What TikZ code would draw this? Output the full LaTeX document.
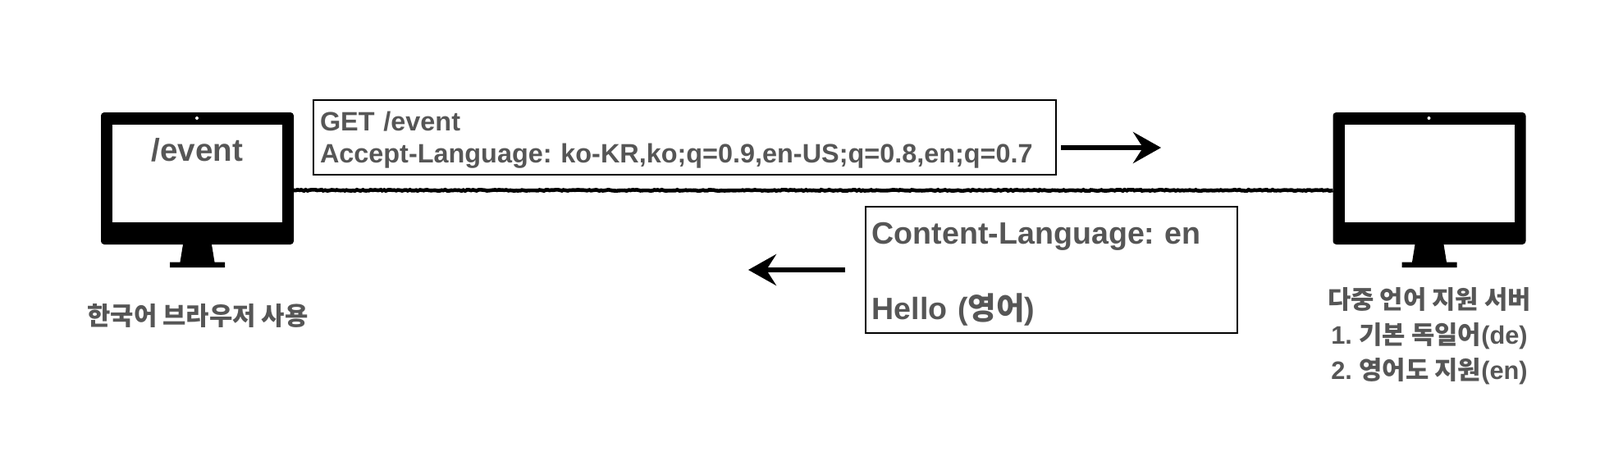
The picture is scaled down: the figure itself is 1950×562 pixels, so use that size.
\documentclass[tikz,border=0pt]{standalone}
\usepackage{fontspec}
\setmainfont{Liberation Sans}
\newfontfamily\krfont{Noto Sans CJK KR}
\usetikzlibrary{arrows.meta,decorations.pathmorphing}
\definecolor{inkgray}{HTML}{565656}
\tikzset{
  monitor/.pic={
    \node[fill=black,rounded corners=2pt,minimum width=117.5pt,minimum height=80.5pt,inner sep=0pt] (-body) at (0,0) {};
    \node[fill=white,minimum width=103.5pt,minimum height=59.5pt,inner sep=0pt] (-screen) at (0,-6) {};
    \fill[white] (-0.5,-73.5) circle (1pt);
    \fill[black] (-17.5,80.5) -- (17.5,80.5) -- (21,102) -- (33.5,102) -- (33.5,108.5) -- (-33.5,108.5) -- (-33.5,102) -- (-21,102) -- cycle;
    \coordinate (-portl) at (-117.5,14.5);
    \coordinate (-portr) at (117.5,14.5);
  },
  msgbox/.style={draw=black,line width=1.4pt,inner sep=0pt,align=left,text=inkgray},
  caption/.style={text=inkgray,align=center,font=\bfseries\fontsize{15.4}{21.5}\selectfont},
  wire/.style={line width=2.3pt,decorate,decoration={random steps,segment length=1.2pt,amplitude=0.35pt}},
  flow/.style={line width=2.8pt,-{Stealth[length=17pt,width=19pt,inset=6pt]}}
}
\begin{document}
\frenchspacing
\begin{tikzpicture}[x=0.5pt,y=-0.5pt]
\useasboundingbox (0,0) rectangle (1950,562);
\pic (client) at (240.5,217.5) {monitor};
\pic (server) at (1742,217.5) {monitor};
\node[text=inkgray,font=\bfseries\fontsize{19.3}{22}\selectfont] (path) at (240.5,183) {/event};

\node[msgbox,font=\bfseries\fontsize{16.2}{19.5}\selectfont,minimum width=452.5pt,minimum height=45.5pt,text width=444.5pt] (request) at (834.5,167.5)
  {\rule{0pt}{15pt}GET /event\\Accept-Language: ko-KR,ko;q=0.9,en-US;q=0.8,en;q=0.7};
\node[msgbox,font=\bfseries\fontsize{18.8}{46}\selectfont,minimum width=226.5pt,minimum height=77pt,text width=218.7pt] (response) at (1281.5,329)
  {\rule{0pt}{18pt}Content-Language: en\\Hello ({\krfont 영어})};

\node[caption] (clientname) at (241,385) {{\krfont 한국어 브라우저 사용}};
\node[caption] (servername) at (1742,410) {{\krfont 다중 언어 지원 서버}\\1. {\krfont 기본 독일어}(de)\\2. {\krfont 영어도 지원}(en)};

\coordinate (reqtail) at (1293,180);
\coordinate (reqhead) at (1415,180);
\coordinate (restail) at (1030,329);
\coordinate (reshead) at (912,329);

\path (client-portr) edge[wire] (server-portl);
\draw[flow] (reqtail) -- (reqhead);
\draw[flow] (restail) -- (reshead);
\end{tikzpicture}
\end{document}
